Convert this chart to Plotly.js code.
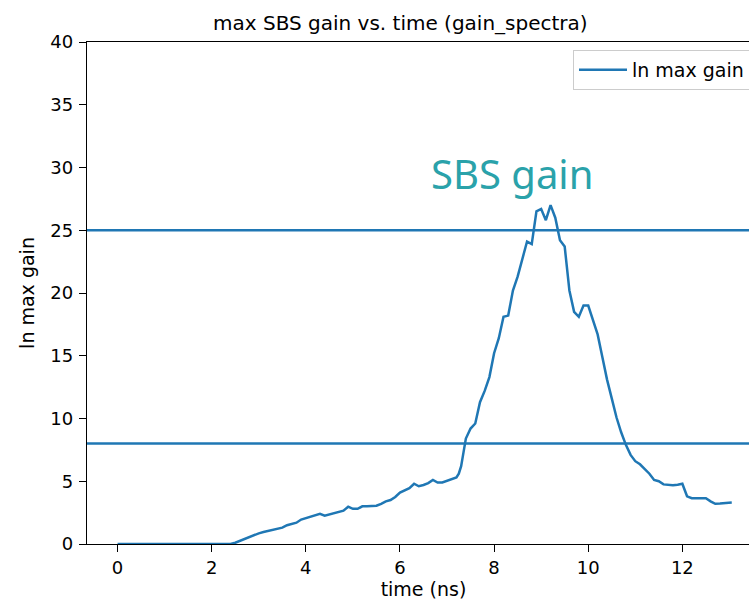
<!DOCTYPE html>
<html>
<head>
<meta charset="utf-8">
<script src="https://cdn.plot.ly/plotly-3.0.1.min.js"></script>
<style>
html, body { margin: 0; padding: 0; overflow: hidden; background: #fff; }
#chart { width: 760px; height: 600px; }
</style>
</head>
<body>
<div id="chart"></div>
<script>
// time (ns)
const time = [0, 0.5, 1.0, 1.5, 2.0, 2.4, 2.5, 2.6, 2.7, 2.8, 2.9, 3.0, 3.1, 3.2, 3.3, 3.4, 3.5, 3.6, 3.7, 3.8, 3.9,
  4.0, 4.1, 4.2, 4.3, 4.4, 4.5, 4.6, 4.7, 4.8, 4.9, 5.0, 5.1, 5.2, 5.3, 5.4, 5.5, 5.6, 5.7, 5.8, 5.9,
  6.0, 6.1, 6.2, 6.3, 6.4, 6.5, 6.6, 6.7, 6.8, 6.9, 7.0, 7.1, 7.2, 7.25, 7.3, 7.35, 7.4, 7.5, 7.6, 7.7, 7.8, 7.9,
  8.0, 8.1, 8.2, 8.3, 8.4, 8.5, 8.6, 8.7, 8.8, 8.9, 9.0, 9.1, 9.2, 9.3, 9.4, 9.5, 9.6, 9.7, 9.8, 9.9,
  10.0, 10.1, 10.2, 10.3, 10.4, 10.5, 10.6, 10.7, 10.8, 10.9, 11.0, 11.1, 11.2, 11.3, 11.4, 11.5, 11.6, 11.7, 11.8, 11.9,
  12.0, 12.1, 12.2, 12.3, 12.4, 12.5, 12.6, 12.7, 12.8, 12.9, 13.0, 13.05];
// ln max gain
const lnMaxGain = [0, 0, 0, 0, 0, 0, 0.1, 0.25, 0.45, 0.6, 0.75, 0.85, 0.95, 1.05, 1.1, 1.2, 1.3, 1.5, 1.6, 1.7, 1.95,
  2.05, 2.15, 2.3, 2.4, 2.25, 2.35, 2.4, 2.5, 2.65, 2.97, 2.8, 2.8, 3.0, 3.0, 3.02, 3.05, 3.2, 3.4, 3.5, 3.75,
  4.1, 4.25, 4.45, 4.8, 4.6, 4.7, 4.85, 5.1, 4.9, 4.9, 5.05, 5.15, 5.3, 5.6, 6.2, 7.3, 8.4, 9.2, 9.6, 11.3, 12.2, 13.3,
  15.2, 16.4, 18.1, 18.2, 20.2, 21.3, 22.6, 24.1, 23.9, 26.5, 26.7, 25.8, 27.0, 26.0, 24.2, 23.7, 20.2, 18.5, 18.1, 19.0,
  19.0, 17.9, 16.7, 14.9, 13.1, 11.6, 10.1, 8.9, 7.9, 7.1, 6.6, 6.35, 6.0, 5.6, 5.1, 5.0, 4.75, 4.7, 4.68, 4.72,
  4.8, 3.8, 3.65, 3.65, 3.65, 3.65, 3.4, 3.2, 3.22, 3.25, 3.27, 3.3];
// horizontal reference levels
const hLines = [25, 8];
const xTicks = [0, 2, 4, 6, 8, 10, 12];
const yTicks = [0, 5, 10, 15, 20, 25, 30, 35, 40];

const blue = '#1f77b4';
const font = 'DejaVu Sans, sans-serif';

const traces = [{
  x: time, y: lnMaxGain, type: 'scatter', mode: 'lines',
  name: 'ln max gain', line: { color: blue, width: 2.5 }
}];

const shapes = hLines.map(v => ({
  type: 'line', xref: 'paper', x0: 0, x1: 1, yref: 'y', y0: v, y1: v,
  line: { color: blue, width: 2.5 }
}));

const layout = {
  width: 760, height: 600,
  margin: { l: 87, r: 0, t: 42, b: 56 },
  paper_bgcolor: '#fff', plot_bgcolor: '#fff',
  font: { family: font, size: 18, color: '#000' },
  title: {
    text: 'max SBS gain vs. time (gain_spectra)',
    font: { family: font, size: 20, color: '#000' },
    xref: 'container', x: 213 / 760, xanchor: 'left',
    yref: 'container', y: 1 - 23 / 600, yanchor: 'middle'
  },
  xaxis: {
    range: [-0.65, 13.65], tickvals: xTicks, ticktext: xTicks.map(String),
    ticks: 'outside', ticklen: 7, tickwidth: 1, tickcolor: '#000',
    showline: true, linecolor: '#000', linewidth: 1.2, mirror: true,
    showgrid: false, zeroline: false,
    tickfont: { family: font, size: 18, color: '#000' },
    title: { text: 'time (ns)', font: { family: font, size: 19, color: '#000' }, standoff: 6 }
  },
  yaxis: {
    range: [0, 40], tickvals: yTicks, ticktext: yTicks.map(String),
    ticks: 'outside', ticklen: 7, tickwidth: 1, tickcolor: '#000',
    showline: true, linecolor: '#000', linewidth: 1.2, mirror: true,
    showgrid: false, zeroline: false, ticklabelstandoff: 2,
    tickfont: { family: font, size: 18, color: '#000' },
    title: { text: 'ln max gain', font: { family: font, size: 19, color: '#000' }, standoff: 10 }
  },
  showlegend: true,
  legend: {
    x: (573 - 87) / 673, xanchor: 'left', y: (544 - 50) / 502, yanchor: 'top',
    bgcolor: 'rgba(255,255,255,0.8)', bordercolor: '#cccccc', borderwidth: 1,
    font: { family: font, size: 19, color: '#000' }, itemwidth: 48
  },
  shapes: shapes,
  annotations: [{
    text: 'SBS gain', xref: 'paper', yref: 'paper',
    x: (512 - 87) / 673, y: (544 - 173) / 502, xanchor: 'center', yanchor: 'middle',
    showarrow: false,
    font: { family: 'Noto Sans, Open Sans, sans-serif', size: 40, color: '#2aa2aa' }
  }]
};

Plotly.newPlot('chart', traces, layout, { displayModeBar: false, staticPlot: true });
</script>
</body>
</html>
